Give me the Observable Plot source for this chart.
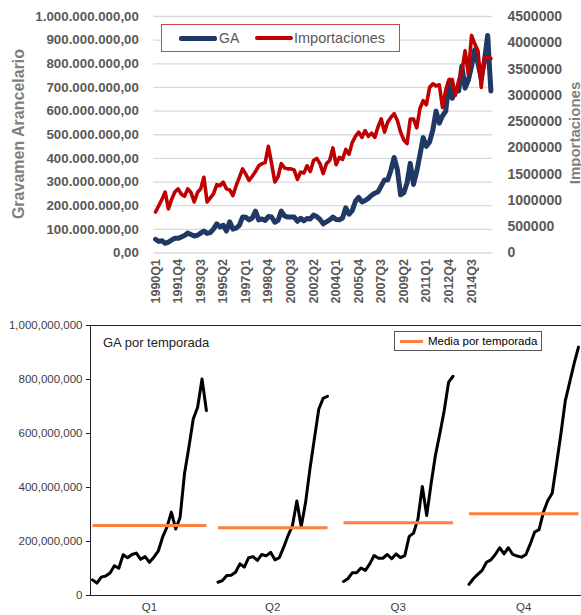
<!DOCTYPE html>
<html><head><meta charset="utf-8">
<script src="https://cdn.jsdelivr.net/npm/d3@7"></script>
<script src="https://cdn.jsdelivr.net/npm/@observablehq/plot@0.6"></script>
<style>
body{margin:0;background:#fff;width:581px;height:615px;overflow:hidden;font-family:"Liberation Sans",Arial,sans-serif}
#topChart,#bottomChart{position:relative;width:581px;overflow:hidden}
#topChart{height:310px}
#bottomChart{height:305px}
svg{display:block}
.abs{position:absolute;white-space:nowrap}
</style></head><body>
<div id="topChart"></div><div id="bottomChart"></div>
<script>
// ---------- DATA ----------
// Gravamen Arancelario (GA) by season, in millions, years 1990.. (Q1 includes 2016)
const gaQ1 = [58,46,68,72,83,110,101,151,140,152,157,134,144,123,142,164,216,253,309,246,290,451,549,654,697,802,685];
const gaQ2 = [49,55,74,75,86,117,105,140,144,130,152,147,160,132,140,179,222,259,350,255,345,470,580,690,730,738];
const gaQ3 = [52,62,84,84,102,93,117,148,138,138,152,136,154,140,148,219,231,284,404,296,414,520,600,685,790,812];
const gaQ4 = [41,62,78,93,123,132,152,177,154,177,152,146,142,152,191,235,244,309,352,379,488,600,722,790,859,920];
// Importaciones quarterly 1990Q1..2016Q1, in millions
const importaciones = [
 0.78,0.90,1.02,1.16,0.84,1.02,1.16,1.22,1.12,1.08,1.22,1.15,0.97,1.15,1.22,1.44,0.97,1.05,1.13,1.30,
 1.28,1.35,1.22,1.20,1.09,1.28,1.44,1.60,1.50,1.38,1.46,1.55,1.66,1.70,1.72,2.03,1.70,1.35,1.45,1.70,
 1.62,1.60,1.60,1.58,1.40,1.54,1.52,1.66,1.55,1.76,1.80,1.70,1.51,1.70,1.76,2.00,1.68,1.82,1.78,1.97,
 1.88,2.10,2.22,2.30,2.20,2.33,2.22,2.28,
 2.20,2.40,2.55,2.30,2.49,2.58,2.65,2.52,2.30,2.15,2.08,2.55,2.55,2.38,2.75,2.90,2.82,3.15,3.22,3.18,
 3.20,2.77,3.10,3.30,3.30,3.00,3.28,3.45,3.85,3.40,4.14,3.98,3.85,3.15,3.72,3.72,3.70];
const xTickLabels = ["1990Q1","1991Q4","1993Q3","1995Q2","1997Q1","1998Q4","2000Q3","2002Q2","2004Q1","2005Q4","2007Q3","2009Q2","2011Q1","2012Q4","2014Q3"];
const leftTicks = [0,1e8,2e8,3e8,4e8,5e8,6e8,7e8,8e8,9e8,1e9];
const rightTicks = [0,500000,1000000,1500000,2000000,2500000,3000000,3500000,4000000,4500000];
const quarterNames = ["Q1","Q2","Q3","Q4"];
const bottomTicks = [0,2e8,4e8,6e8,8e8,1e9];

// ---------- TOP CHART ----------
const seasons = [gaQ1, gaQ2, gaQ3, gaQ4];
const gaQuarterly = [];
for (let y = 0; y < 27; y++) for (let q = 0; q < 4; q++) if (seasons[q][y] !== undefined) gaQuarterly.push(seasons[q][y] * 1e6);
const rightMax = 4500000, leftMax = 1e9, kScale = leftMax / rightMax;
const topData = gaQuarterly.map((v, i) => ({i, ga: v, imp: importaciones[i] * 1e6 * kScale}));
const fmtES = d3.formatLocale({decimal: ",", thousands: ".", grouping: [3], currency: ["", ""]}).format(",.2f");

const topPlot = Plot.plot({
  width: 581, height: 310,
  marginLeft: 153.4, marginRight: 89, marginTop: 16, marginBottom: 57.5,
  style: {fontFamily: "'Liberation Sans', Arial, sans-serif", fontWeight: "bold", color: "#595959", background: "#fff"},
  x: {domain: [-0.5, 104.5], axis: null},
  y: {domain: [0, leftMax]},
  marks: [
    Plot.gridY({ticks: leftTicks, stroke: "#d9d9d9", strokeOpacity: 1, strokeWidth: 1.3}),
    Plot.axisY({ticks: leftTicks, tickSize: 0, tickPadding: 15, tickFormat: fmtES, fontSize: 13.3, label: null}),
    Plot.axisY({ticks: rightTicks.map(v => v * kScale), anchor: "right", tickSize: 0, tickPadding: 15, tickFormat: d => String(Math.round(d / kScale)), fontSize: 14, label: null}),
    Plot.line(topData, {x: "i", y: "ga", stroke: "#1f3864", strokeWidth: 5, strokeLinejoin: "round"}),
    Plot.line(topData, {x: "i", y: "imp", stroke: "#c00000", strokeWidth: 3.6, strokeLinejoin: "round"}),
    Plot.text(xTickLabels, {x: (d, i) => i * 7, y: () => 0, text: d => d, rotate: -90, textAnchor: "end", lineAnchor: "middle", dy: 6, fontSize: 12.5, fill: "#595959"})
  ]
});
const topDiv = document.getElementById("topChart");
topDiv.appendChild(topPlot);
topDiv.insertAdjacentHTML("beforeend", `
<div class="abs" style="left:19px;top:134px;transform:translate(-50%,-50%) rotate(-90deg);font-size:16px;font-weight:bold;color:#7f7f7f">Gravamen Arancelario</div>
<div class="abs" style="left:574px;top:133px;transform:translate(-50%,-50%) rotate(-90deg);font-size:15px;font-weight:bold;color:#7f7f7f">Importaciones</div>
<div class="abs" style="left:161px;top:24px;width:239px;height:28px;box-sizing:border-box;border:1.5px solid #cc4444;background:#fff"></div>
<div class="abs" style="left:179px;top:36px;width:38px;height:4.5px;background:#1f3864;border-radius:2px"></div>
<div class="abs" style="left:219px;top:30px;line-height:16px;font-size:14px;color:#595959">GA</div>
<div class="abs" style="left:255px;top:36px;width:38px;height:4px;background:#c00000;border-radius:2px"></div>
<div class="abs" style="left:294px;top:30px;line-height:16px;font-size:14.5px;color:#595959">Importaciones</div>
`);

// ---------- BOTTOM CHART ----------
const P = 28.65; // panel period in year slots
const bottomData = [];
seasons.forEach((arr, q) => arr.forEach((v, y) => bottomData.push({q: quarterNames[q], x: q * P + y, v: v * 1e6})));
const means = seasons.map((arr, q) => ({q: quarterNames[q], x1: q * P, x2: q * P + arr.length - 1, m: d3.mean(arr) * 1e6}));
const xDom = [-0.46, 111.64];

const bottomPlot = Plot.plot({
  width: 581, height: 305,
  marginLeft: 90, marginRight: 0, marginTop: 15, marginBottom: 20,
  style: {fontFamily: "'Liberation Sans', Arial, sans-serif", color: "#222", background: "#fff"},
  x: {domain: xDom, axis: null},
  y: {domain: [0, 1e9]},
  marks: [
    Plot.ruleY([0, 1e9], {stroke: "#222", strokeWidth: 1}),
    Plot.ruleX([xDom[0]], {stroke: "#222", strokeWidth: 1}),
    Plot.axisY({ticks: bottomTicks, tickSize: 4, tickPadding: 4, tickFormat: d3.format(","), fontSize: 11.5, label: null, fill: "#404040"}),
    Plot.line(bottomData, {x: "x", y: "v", z: "q", stroke: "#000", strokeWidth: 3, strokeLinejoin: "round"}),
    Plot.link(means, {x1: "x1", x2: "x2", y1: "m", y2: "m", stroke: "#ff7f3f", strokeWidth: 3}),
    Plot.text(means, {x: d => (d.x1 + d.x2) / 2, y: () => 0, text: "q", dy: 12, fontSize: 11.5, fill: "#404040"})
  ]
});
const botDiv = document.getElementById("bottomChart");
botDiv.appendChild(bottomPlot);
botDiv.insertAdjacentHTML("beforeend", `
<div class="abs" style="left:103px;top:25px;line-height:16px;font-size:13px;color:#222">GA por temporada</div>
<div class="abs" style="left:394px;top:21px;width:148px;height:20px;box-sizing:border-box;border:1px solid #555;background:#fff"></div>
<div class="abs" style="left:400px;top:30px;width:23px;height:3px;background:#ff7f3f"></div>
<div class="abs" style="left:428px;top:24px;line-height:14px;font-size:11.5px;color:#000">Media por temporada</div>
`);
</script></body></html>
